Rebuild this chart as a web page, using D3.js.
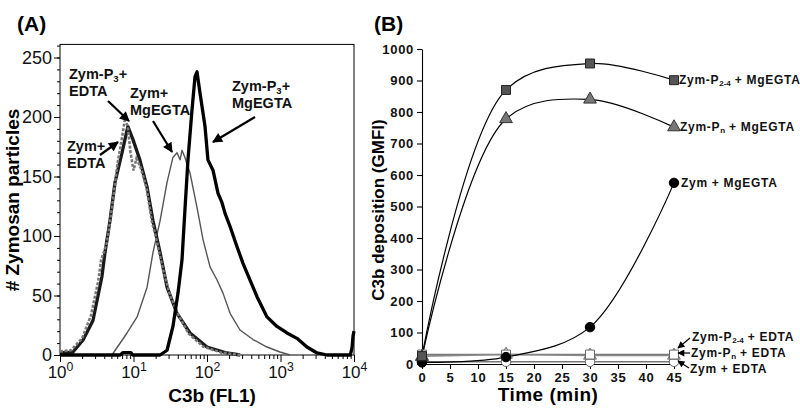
<!DOCTYPE html>
<html><head><meta charset="utf-8">
<script src="https://cdn.jsdelivr.net/npm/d3@7"></script>
<style>
body{margin:0;background:#fff;}
svg{display:block;font-family:"Liberation Sans",Arial,Helvetica,sans-serif;}
</style></head><body>
<svg id="c" width="800" height="411"></svg>
<script>
// ---------- Panel A: flow cytometry histograms (FL1 value, count) ----------
const zymEdtaFL1   = [1, 1.41, 2.0, 2.63, 3.31, 3.63, 3.98, 4.37, 5.25, 6.03, 7.08, 7.59, 8.32, 9.12, 10.0, 10.96, 12.6, 15.1, 17.8, 20.0, 25.1, 31.6, 39.8, 56.2, 89.1, 158, 282];
const zymEdtaCount = [3, 4, 14, 33, 62, 80, 87, 95, 130, 160, 185, 197, 193, 170, 155, 165, 157, 140, 112, 100, 72, 50, 35, 18, 7, 2, 0];

const p3EdtaFL1   = [1, 1.5, 2.06, 2.81, 3.72, 4.09, 4.79, 5.6, 6.98, 8.17, 8.41, 9.84, 12.2, 15.3, 18.4, 23.0, 28.6, 39.1, 58.7, 100, 140, 186, 282];
const p3EdtaCount = [2, 2.5, 12.6, 29, 66, 86, 113, 145, 170, 189, 192, 181, 164, 141, 113, 86, 57, 35, 18.5, 6.7, 4, 1.7, 0];

const zymMgFL1   = [5.09, 8.17, 11.2, 15.3, 18.4, 23.0, 28.6, 34.4, 39.1, 43.0, 45.7, 50.1, 58.7, 73.1, 88.3, 110, 137, 165, 206, 281, 423, 655, 984, 1349];
const zymMgCount = [0, 18.5, 32, 57, 86, 113, 145, 166, 170, 164, 172, 166, 153, 124, 97, 74, 63, 52, 35, 21, 13, 6.7, 2.5, 0];

const p3MgFL1   = [1, 6.6, 7.2, 9.2, 9.8, 23.0, 28.6, 34.4, 40.3, 45.7, 50.1, 55.1, 62.5, 68.7, 73.1, 80.4, 94.0, 103, 121, 141, 160, 176, 206, 256, 309, 385, 479, 655, 895, 1225, 1675, 2291, 3141, 4295, 8900, 9400, 9700, 10000];
const p3MgCount = [0, 0, 2, 2, 0, 0, 4, 24, 52, 80, 122, 164, 206, 234, 238, 220, 192, 164, 155, 136, 128, 119, 108, 91, 77, 63, 49, 32, 24, 18.5, 14, 6.7, 1.7, 0, 0, 6, 16, 20];

const histYTicks = [0, 50, 100, 150, 200, 250];
const histXTicks = [1, 10, 100, 1000, 10000];

// ---------- Panel B: C3b deposition time course ----------
const times    = [0, 15, 30, 45];
const timeTicks = [0, 5, 10, 15, 20, 25, 30, 35, 40, 45];
const gmfiTicks = [0, 100, 200, 300, 400, 500, 600, 700, 800, 900, 1000];
const p24Mg   = [25, 870, 954, 901];
const pnMg    = [22, 778, 840, 752];
const zymMg   = [5, 22, 117, 575];
const p24Edta = [30, 30, 30, 30];
const pnEdta  = [25, 30, 27, 27];
const zymEdta = [7, 7, 7, 7];

const svg = d3.select("#c");
const defs = svg.append("defs");
function arrowMarker(id, w, h) {
  defs.append("marker").attr("id", id).attr("viewBox", "0 0 10 10")
    .attr("refX", 9).attr("refY", 5).attr("markerUnits", "userSpaceOnUse")
    .attr("markerWidth", w).attr("markerHeight", h).attr("orient", "auto")
    .append("path").attr("d", "M0,0 L10,5 L0,10 Z").attr("fill", "#000");
}
arrowMarker("ahA", 11, 10);
arrowMarker("ahB", 8, 7);

// ================= Panel A =================
const xA = d3.scaleLog().domain([1, 10000]).range([60, 354]);
const yA = d3.scaleLinear().domain([0, 250]).range([355, 57.5]);
const A = svg.append("g");

A.append("rect").attr("x", xA(1)).attr("y", yA(261)).attr("width", xA(10000) - xA(1))
  .attr("height", yA(0) - yA(261)).attr("fill", "none").attr("stroke", "#000").attr("stroke-width", 1);

const yMinor = d3.range(0, 261, 10);
A.append("g").attr("transform", `translate(${xA(1)},0)`)
  .call(d3.axisLeft(yA).tickValues(yMinor).tickSize(3).tickFormat(""))
  .call(g => g.select(".domain").remove());
const xMinor = [];
[1, 10, 100, 1000].forEach(dec => { for (let k = 2; k <= 9; k++) xMinor.push(dec * k); });
A.append("g").attr("transform", `translate(0,${yA(0)})`)
  .call(d3.axisBottom(xA).tickValues(xMinor).tickSize(4).tickFormat(""))
  .call(g => g.select(".domain").remove());

A.append("g").attr("transform", `translate(${xA(1)},0)`)
  .call(d3.axisLeft(yA).tickValues(histYTicks).tickSize(6).tickPadding(2).tickSizeOuter(0))
  .call(g => g.select(".domain").remove())
  .call(g => g.selectAll("text").attr("font-size", 18).attr("font-family", "Liberation Sans, Arial").attr("fill", "#111"));
A.append("g").attr("transform", `translate(0,${yA(0)})`)
  .call(d3.axisBottom(xA).tickValues(histXTicks).tickSize(7).tickPadding(4).tickSizeOuter(0))
  .call(g => g.select(".domain").remove())
  .call(g => g.selectAll(".tick text").each(function(d) {
      const t = d3.select(this).text("").attr("font-size", 17).attr("font-family", "Liberation Sans, Arial").attr("fill", "#111");
      t.append("tspan").text("10");
      t.append("tspan").attr("dy", "-0.55em").attr("font-size", "0.72em").text(Math.round(Math.log10(d)));
  }));
A.selectAll(".tick line").attr("stroke", "#000");

const lineA = d3.line().x(d => xA(d[0])).y(d => yA(d[1]));
const zip = (a, b) => a.map((v, i) => [v, b[i]]);
A.append("path").datum(zip(zymMgFL1, zymMgCount)).attr("d", lineA)
  .attr("fill", "none").attr("stroke", "#555").attr("stroke-width", 1.4).attr("stroke-linejoin", "round");
A.append("path").datum(zip(p3EdtaFL1, p3EdtaCount)).attr("d", lineA)
  .attr("fill", "none").attr("stroke", "#1a1a1a").attr("stroke-width", 3.3).attr("stroke-linejoin", "round");
A.append("path").datum(zip(zymEdtaFL1, zymEdtaCount)).attr("d", lineA)
  .attr("fill", "none").attr("stroke", "#777").attr("stroke-width", 2.6).attr("stroke-dasharray", "3,1.6");
A.append("path").datum(zip(p3MgFL1, p3MgCount)).attr("d", lineA)
  .attr("fill", "none").attr("stroke", "#000").attr("stroke-width", 3.3).attr("stroke-linejoin", "round");

svg.append("text").attr("x", 17).attr("y", 31).attr("font-size", 21).attr("font-weight", "bold").text("(A)");
svg.append("text").attr("x", 374).attr("y", 31).attr("font-size", 21).attr("font-weight", "bold").text("(B)");
A.append("text").attr("x", 212).attr("y", 402).attr("text-anchor", "middle")
  .attr("font-size", 19).attr("font-weight", "bold").text("C3b (FL1)");
A.append("text").attr("transform", "translate(19,200) rotate(-90)").attr("text-anchor", "middle")
  .attr("font-size", 19).attr("font-weight", "bold").text("# Zymosan particles");

// annotations: first line may contain a subscript
function multiLabel(x, y, pre, sub, post, l2) {
  const t1 = A.append("text").attr("x", x).attr("y", y).attr("font-size", 14.5)
    .attr("font-weight", "bold").attr("fill", "#111");
  t1.append("tspan").text(pre);
  if (sub) {
    t1.append("tspan").attr("dy", 3).attr("font-size", 9.5).text(sub);
    t1.append("tspan").attr("dy", -3).text(post);
  } else if (post) t1.append("tspan").text(post);
  A.append("text").attr("x", x).attr("y", y + 17).attr("font-size", 14.5)
    .attr("font-weight", "bold").attr("fill", "#111").text(l2);
}
multiLabel(69, 79, "Zym-P", "3", "+", "EDTA");
multiLabel(67, 151, "Zym+", null, null, "EDTA");
multiLabel(130, 98, "Zym+", null, null, "MgEGTA");
multiLabel(232, 91, "Zym-P", "3", "+", "MgEGTA");

function arrow(g, x1, y1, x2, y2, w, m) {
  g.append("line").attr("x1", x1).attr("y1", y1).attr("x2", x2).attr("y2", y2)
    .attr("stroke", "#000").attr("stroke-width", w).attr("marker-end", `url(#${m})`);
}
arrow(A, 108, 101, 129, 121, 2.2, "ahA");
arrow(A, 100, 155, 118, 142, 2.2, "ahA");
arrow(A, 153, 121, 172, 152, 2.2, "ahA");
arrow(A, 255, 117, 213, 142, 2.2, "ahA");

// ================= Panel B =================
const xB = d3.scaleLinear().domain([0, 45]).range([422, 674]);
const yB = d3.scaleLinear().domain([0, 1000]).range([364, 49]);
const B = svg.append("g");
const fontB = g => g.selectAll("text").attr("font-size", 13).attr("font-weight", "bold")
  .attr("font-family", "Liberation Sans, Arial").attr("letter-spacing", "0.7px").attr("fill", "#111");
B.append("g").attr("transform", `translate(${xB(0)},0)`)
  .call(d3.axisLeft(yB).tickValues(gmfiTicks).tickFormat(d3.format("d")).tickSize(5).tickPadding(3).tickSizeOuter(0)).call(fontB);
B.append("g").attr("transform", `translate(0,${yB(0)})`)
  .call(d3.axisBottom(xB).tickValues(timeTicks).tickSize(5).tickPadding(4).tickSizeOuter(0)).call(fontB);
B.selectAll(".domain, .tick line").attr("stroke", "#000").attr("stroke-width", 1.1);

B.append("text").attr("x", 548).attr("y", 401).attr("text-anchor", "middle")
  .attr("font-size", 19).attr("font-weight", "bold").attr("letter-spacing", "0.5px").text("Time (min)");
B.append("text").attr("transform", "translate(384,210) rotate(-90)").attr("text-anchor", "middle")
  .attr("font-size", 17).attr("font-weight", "bold").text("C3b deposition (GMFI)");

const lineB = d3.line().x((d, i) => xB(times[i])).y(d => yB(d)).curve(d3.curveCatmullRom.alpha(0.5));
const lineFlat = d3.line().x((d, i) => xB(times[i])).y(d => yB(d));

[[p24Edta, "#777"], [pnEdta, "#888"], [zymEdta, "#777"]].forEach(([s, c]) => {
  B.append("path").datum(s).attr("d", lineFlat).attr("fill", "none").attr("stroke", c).attr("stroke-width", 1.6);
});
[p24Mg, pnMg, zymMg].forEach(s => {
  B.append("path").datum(s).attr("d", lineB).attr("fill", "none").attr("stroke", "#000").attr("stroke-width", 1.2);
});

const sq = d3.symbol().type(d3.symbolSquare).size(80);
const tri = d3.symbol().type(d3.symbolTriangle).size(70);
const cir = d3.symbol().type(d3.symbolCircle).size(70);
function markers(series, sym, fill, stroke) {
  B.append("g").selectAll("path").data(series).join("path")
    .attr("transform", (d, i) => `translate(${xB(times[i])},${yB(d)})`)
    .attr("d", sym).attr("fill", fill).attr("stroke", stroke).attr("stroke-width", 1);
}
markers(zymEdta, cir, "#fff", "#666");
markers(pnEdta, tri, "#fff", "#666");
markers(p24Edta, sq, "#fff", "#666");
markers(zymMg, cir, "#000", "#000");
markers(pnMg, tri, "#777", "#333");
markers(p24Mg, sq, "#555", "#222");

function labelB(x, y, pre, sub, post) {
  const t = B.append("text").attr("x", x).attr("y", y).attr("font-size", 12)
    .attr("font-weight", "bold").attr("letter-spacing", "0.7px").attr("fill", "#111");
  t.append("tspan").text(pre);
  if (sub) {
    t.append("tspan").attr("dy", 2).attr("font-size", 8).attr("letter-spacing", "0px").text(sub);
    t.append("tspan").attr("dy", -2).text(post);
  } else t.append("tspan").text(post);
}
labelB(679, 84, "Zym-P", "2-4", " + MgEGTA");
labelB(680, 131, "Zym-P", "n", " + MgEGTA");
labelB(681, 187, "Zym", null, " + MgEGTA");
labelB(692, 341, "Zym-P", "2-4", " + EDTA");
labelB(691, 357, "Zym-P", "n", " + EDTA");
labelB(690, 373, "Zym", null, " + EDTA");
arrow(B, 690, 338, 678, 348, 1.2, "ahB");
arrow(B, 690, 353, 678, 353, 1.2, "ahB");
arrow(B, 689, 368, 678, 361, 1.2, "ahB");
</script>
</body></html>
